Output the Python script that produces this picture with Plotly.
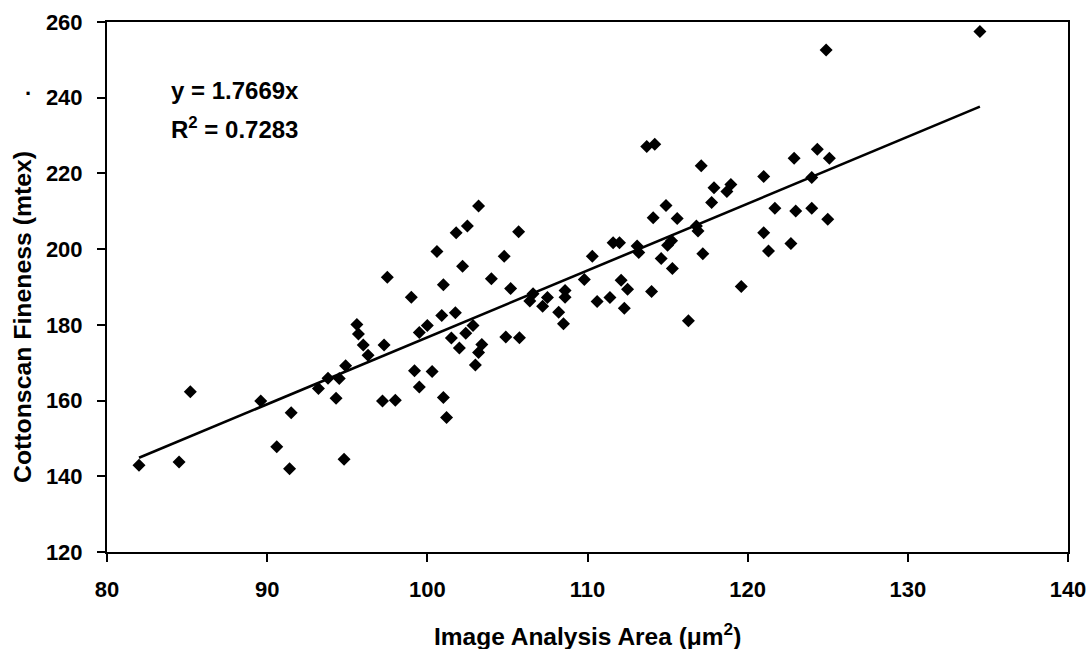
import plotly.graph_objects as go

area = [82.0, 84.5, 85.2, 89.6, 91.5, 90.6, 91.4, 93.2, 93.8, 94.5, 94.3, 94.8, 94.9,
        95.6, 95.7, 96.0, 96.3, 97.3, 97.5, 97.2, 98.0, 99.0, 99.2, 99.5, 100.3, 99.5,
        100.0, 100.9, 101.75, 101.0, 100.6, 102.2, 101.8, 102.5, 103.2, 104.0, 101.0,
        101.2, 101.5, 102.0, 102.4, 102.85, 103.2, 103.4, 103.0, 105.7, 104.8, 105.2,
        104.9, 105.75, 106.6, 106.4, 107.5, 107.2, 108.2, 108.5, 108.6, 108.6, 109.8,
        110.3, 110.6, 111.4, 111.6, 112.0, 112.1, 112.5, 112.3, 114.0, 113.1, 113.2,
        114.1, 114.9, 115.6, 117.75, 114.6, 115.3, 115.0, 115.25, 116.8, 116.9, 117.2,
        116.3, 113.7, 114.2, 117.1, 117.9, 118.7, 118.95, 121.0, 121.7, 121.0, 121.3,
        124.9, 134.5, 122.9, 124.35, 125.1, 124.0, 123.0, 124.0, 125.0, 122.7, 119.6]
fineness = [142.9, 143.8, 162.3, 159.9, 156.8, 147.8, 142.0, 163.2, 165.9, 165.8, 160.6,
            144.5, 169.2, 180.1, 177.6, 174.7, 172.0, 174.7, 192.6, 159.9, 160.1, 187.3,
            167.9, 163.6, 167.7, 178.0, 179.8, 182.5, 183.2, 190.6, 199.4, 195.5, 204.3,
            206.1, 211.4, 192.2, 160.8, 155.5, 176.5, 173.9, 177.8, 179.8, 172.7, 174.8,
            169.4, 204.6, 198.1, 189.6, 176.8, 176.6, 188.2, 186.3, 187.2, 184.9, 183.3,
            180.3, 189.1, 187.3, 192.0, 198.1, 186.2, 187.2, 201.7, 201.7, 191.8, 189.4,
            184.4, 188.8, 200.8, 199.1, 208.3, 211.5, 208.1, 212.3, 197.5, 194.9, 201.0,
            202.2, 206.1, 204.8, 198.8, 181.1, 227.1, 227.7, 222.0, 216.2, 215.2, 217.1,
            219.2, 210.8, 204.3, 199.5, 252.6, 257.5, 224.0, 226.4, 224.0, 218.9, 210.1,
            210.8, 207.9, 201.5, 190.1]

x_title = "<b>Image Analysis Area (μm<sup>2</sup>)</b>"
y_title = "<b>Cottonscan Fineness (mtex)</b>"
eq_text = "<b>y = 1.7669x</b>"
r2_text = "<b>R<sup>2</sup> = 0.7283</b>"

slope = 1.7669
trend_x = [min(area), max(area)]
trend_y = [slope * v for v in trend_x]

font_family = "Liberation Sans, Arial, sans-serif"
TICK_FS = 22
ANN_FS = 24
XT_FS = 24.5
YT_FS = 24.8

W, H = 1091, 649
ML, MR, MT, MB = 107, 23, 22, 97
pw = W - ML - MR
ph = H - MT - MB


def px_to_paper(px, py):
    return (px - ML) / pw, (H - MB - py) / ph


fig = go.Figure()
fig.add_trace(go.Scatter(x=area, y=fineness, mode="markers",
                         marker=dict(symbol="diamond", size=10, color="black",
                                     line=dict(width=0)),
                         showlegend=False))
fig.add_trace(go.Scatter(x=trend_x, y=trend_y, mode="lines",
                         line=dict(color="black", width=2.6), showlegend=False))

fig.add_annotation(x=83.9, y=241.9, xref="x", yref="y", xanchor="left", yanchor="middle",
                   text=eq_text, showarrow=False,
                   font=dict(family=font_family, size=ANN_FS, color="black"))
fig.add_annotation(x=83.9, y=231.9, xref="x", yref="y", xanchor="left", yanchor="middle",
                   text=r2_text, showarrow=False,
                   font=dict(family=font_family, size=ANN_FS, color="black"))

dx, dy = px_to_paper(28, 94)
fig.add_annotation(xref="paper", yref="paper", xanchor="center", yanchor="middle",
                   x=dx, y=dy, showarrow=False, text="<b>·</b>",
                   font=dict(family=font_family, size=TICK_FS, color="black"))

tx, ty = px_to_paper(587.5, 634)
fig.add_annotation(xref="paper", yref="paper", xanchor="center", yanchor="middle",
                   x=tx, y=ty, showarrow=False, text=x_title,
                   font=dict(family=font_family, size=XT_FS, color="black"))
yx, yy = px_to_paper(22, 317)
fig.add_annotation(xref="paper", yref="paper", xanchor="center", yanchor="middle",
                   x=yx, y=yy, showarrow=False, text=y_title, textangle=-90,
                   font=dict(family=font_family, size=YT_FS, color="black"))

axis_common = dict(showgrid=False, zeroline=False, showline=True, linecolor="black",
                   linewidth=2, mirror=True, ticks="outside", ticklen=8, tickwidth=1.5,
                   tickcolor="black", automargin=False, ticklabeloverflow="allow",
                   tickfont=dict(family=font_family, size=TICK_FS, color="black",
                                 weight="bold"))

fig.update_xaxes(range=[80, 140], tickvals=[80, 90, 100, 110, 120, 130, 140],
                 ticklabelstandoff=9, **axis_common)
fig.update_yaxes(range=[120, 260], tickvals=[120, 140, 160, 180, 200, 220, 240, 260],
                 ticklabelstandoff=10, **axis_common)

fig.update_layout(width=W, height=H, plot_bgcolor="white", paper_bgcolor="white",
                  margin=dict(l=ML, r=MR, t=MT, b=MB, autoexpand=False), showlegend=False,
                  hovermode=False)

# remove the default 8px page margin so the figure fills the window exactly
fig.write_html("out.html", config={"displayModeBar": False},
               post_script="document.body.style.margin='0';")
